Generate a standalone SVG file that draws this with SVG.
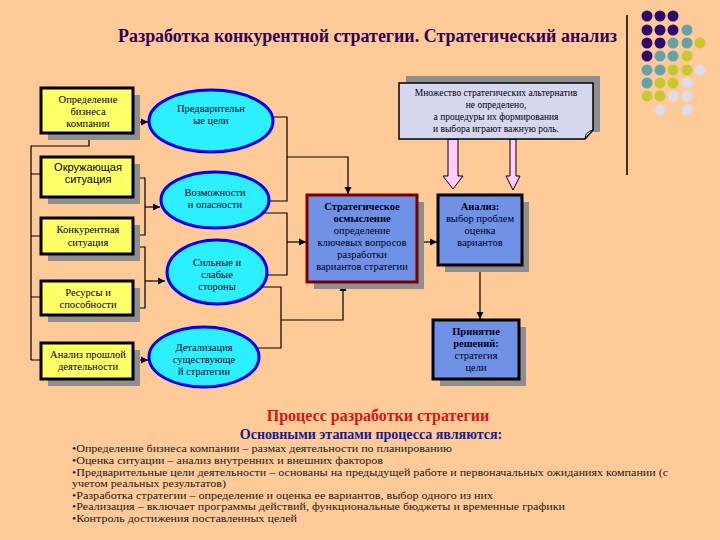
<svg xmlns="http://www.w3.org/2000/svg" width="720" height="540" viewBox="0 0 720 540" font-family="'Liberation Serif','DejaVu Serif',serif">
<defs>
<style>
.bg{fill:#fdca98}
.shadow{fill:#8e8e8e}
.ybox{fill:#ffff66;stroke:#000;stroke-width:3}
.bbox{fill:#6f92e6;stroke:#000;stroke-width:3}
.rbox{fill:#6f92e6;stroke:#7a0000;stroke-width:3}
.ell{fill:#2cf0ff;stroke:#0000ee;stroke-width:3}
.conn{fill:none;stroke:#000;stroke-width:1.2}
.t{font-size:10.5px;fill:#000022;text-anchor:middle}
.ts{font-size:11px;fill:#000022;text-anchor:middle}
.tb{font-weight:bold}
.note{font-size:9.5px;fill:#000;text-anchor:middle}
.list{font-size:11px;fill:#1a1a1a}
.pk{fill:#ffccff;stroke:#000;stroke-width:1}
.dp{fill:#2e0a6a}.dt{fill:#66a3a8}.dy{fill:#c8c830}.dl{fill:#dcdcec}
</style>
<marker id="ah" markerUnits="userSpaceOnUse" markerWidth="8" markerHeight="8" refX="7" refY="4" orient="auto">
<path d="M0,0.5 L7,4 L0,7.5 z" fill="#000"/>
</marker>
</defs>
<rect class="bg" x="0" y="0" width="720" height="540"/>

<!-- title -->
<text x="118" y="42" font-size="18" font-weight="bold" fill="#330055" textLength="499" lengthAdjust="spacingAndGlyphs">Разработка конкурентной стратегии. Стратегический анализ</text>
<line x1="627" y1="15" x2="627" y2="175" stroke="#000" stroke-width="1.5"/>

<!-- decorative dots -->
<g id="dots">
<circle class="dp" cx="647" cy="16" r="5.5"/><circle class="dp" cx="660" cy="16" r="5.5"/><circle class="dp" cx="673" cy="16" r="5.5"/>
<circle class="dp" cx="647" cy="30" r="5.5"/><circle class="dp" cx="660" cy="30" r="5.5"/><circle class="dp" cx="673" cy="30" r="5.5"/><circle class="dt" cx="687" cy="30" r="5.5"/>
<circle class="dp" cx="647" cy="43" r="5.5"/><circle class="dp" cx="660" cy="43" r="5.5"/><circle class="dt" cx="673" cy="43" r="5.5"/><circle class="dt" cx="687" cy="43" r="5.5"/><circle class="dy" cx="700" cy="43" r="5.5"/>
<circle class="dp" cx="647" cy="56" r="5.5"/><circle class="dt" cx="660" cy="56" r="5.5"/><circle class="dt" cx="673" cy="56" r="5.5"/><circle class="dy" cx="687" cy="56" r="5.5"/>
<circle class="dt" cx="647" cy="70" r="5.5"/><circle class="dt" cx="660" cy="70" r="5.5"/><circle class="dy" cx="673" cy="70" r="5.5"/><circle class="dy" cx="687" cy="70" r="5.5"/><circle class="dl" cx="700" cy="70" r="5.5"/>
<circle class="dt" cx="647" cy="83" r="5.5"/><circle class="dy" cx="660" cy="83" r="5.5"/><circle class="dy" cx="673" cy="83" r="5.5"/><circle class="dl" cx="687" cy="83" r="5.5"/>
<circle class="dy" cx="647" cy="96" r="5.5"/><circle class="dy" cx="660" cy="96" r="5.5"/><circle class="dl" cx="673" cy="96" r="5.5"/><circle class="dl" cx="687" cy="96" r="5.5"/>
<circle class="dl" cx="660" cy="110" r="5.5"/><circle class="dl" cx="687" cy="110" r="5.5"/>
</g>

<!-- connectors -->
<g id="connectors">
<path class="conn" d="M89,133 V146 H31 V360 M31,174 H41 M31,236 H41 M31,297 H41 M31,360 H41"/>
<path class="conn" d="M133,122 H148" marker-end="url(#ah)"/>
<path class="conn" d="M133,178 H145 V235 H133"/>
<path class="conn" d="M145,207 H160" marker-end="url(#ah)"/>
<path class="conn" d="M133,247 H145 V308 H133"/>
<path class="conn" d="M145,281 H165" marker-end="url(#ah)"/>
<path class="conn" d="M133,360 H148" marker-end="url(#ah)"/>
<path class="conn" d="M273,117 H287 V201 H269"/>
<path class="conn" d="M287,157 H348 V194" marker-end="url(#ah)"/>
<path class="conn" d="M263,213 H287 V275 H267"/>
<path class="conn" d="M287,242 H306" marker-end="url(#ah)"/>
<path class="conn" d="M261,287 H281 V348 H257"/>
<path class="conn" d="M281,320 H343 V284" marker-end="url(#ah)"/>
<path class="conn" d="M417,242 H437" marker-end="url(#ah)"/>
<path class="conn" d="M480,265 V319" marker-end="url(#ah)"/>
<polygon class="pk" points="448,139 458,139 458,176 463,176 453,189 443,176 448,176"/>
<polygon class="pk" points="510,139 516,139 516,176 520,176 513,190 506,176 510,176"/>
</g>

<!-- left column boxes -->
<g id="box-business">
<rect class="shadow" x="48" y="95" width="92" height="45"/>
<rect class="ybox" x="41" y="88" width="92" height="45"/>
<text class="t" x="88" y="103">Определение</text>
<text class="t" x="88" y="115">бизнеса</text>
<text class="t" x="88" y="127">компании</text>
</g>
<g id="box-environment">
<rect class="shadow" x="48" y="164" width="92" height="40"/>
<rect class="ybox" x="41" y="157" width="92" height="40"/>
<text class="ts" x="88" y="171" font-family="'Liberation Sans',Arial,sans-serif">Окружающая</text>
<text class="ts" x="88" y="183" font-family="'Liberation Sans',Arial,sans-serif">ситуация</text>
</g>
<g id="box-competition">
<rect class="shadow" x="48" y="225" width="92" height="36"/>
<rect class="ybox" x="41" y="218" width="92" height="36"/>
<text class="t" x="88" y="233">Конкурентная</text>
<text class="t" x="88" y="246">ситуация</text>
</g>
<g id="box-resources">
<rect class="shadow" x="48" y="288" width="92" height="34"/>
<rect class="ybox" x="41" y="281" width="92" height="34"/>
<text class="t" x="88" y="296">Ресурсы  и</text>
<text class="t" x="88" y="308">способности</text>
</g>
<g id="box-past">
<rect class="shadow" x="48" y="350" width="92" height="36"/>
<rect class="ybox" x="41" y="343" width="92" height="36"/>
<text class="t" x="88" y="358">Анализ  прошлой</text>
<text class="t" x="88" y="370">деятельности</text>
</g>

<!-- ellipses -->
<g id="ell-goals">
<ellipse class="ell" cx="211" cy="121" rx="62" ry="31"/>
<text class="t" x="211" y="112" font-size="9.5">Предварительн</text>
<text class="t" x="211" y="124" font-size="9.5">ые цели</text>
</g>
<g id="ell-opportunities">
<ellipse class="ell" cx="215" cy="200" rx="54" ry="28"/>
<text class="t" x="215" y="196">Возможности</text>
<text class="t" x="215" y="208">и опасности</text>
</g>
<g id="ell-strengths">
<ellipse class="ell" cx="217" cy="272" rx="50" ry="32"/>
<text class="t" x="217" y="266">Сильные и</text>
<text class="t" x="217" y="278">слабые</text>
<text class="t" x="217" y="290">стороны</text>
</g>
<g id="ell-detail">
<ellipse class="ell" cx="204" cy="357" rx="55" ry="30"/>
<text class="t" x="204" y="351">Детализация</text>
<text class="t" x="204" y="363">существующе</text>
<text class="t" x="204" y="375">й стратегии</text>
</g>

<!-- strategy box -->
<g id="box-strategy">
<rect class="shadow" x="314" y="202" width="110" height="87"/>
<rect class="rbox" x="307" y="195" width="110" height="87"/>
<text class="t tb" x="362" y="210" fill="#000055">Стратегическое</text>
<text class="t tb" x="362" y="222" fill="#000055">осмысление</text>
<text class="t" x="362" y="234" fill="#000055">определение</text>
<text class="t" x="362" y="246" fill="#000055">ключевых вопросов</text>
<text class="t" x="362" y="258" fill="#000055">разработки</text>
<text class="t" x="362" y="270" fill="#000055">вариантов стратегии</text>
</g>
<g id="box-analysis">
<rect class="shadow" x="445" y="202" width="84" height="70"/>
<rect class="bbox" x="438" y="195" width="84" height="70"/>
<text class="t tb" x="480" y="210" fill="#000055">Анализ:</text>
<text class="t" x="480" y="222" fill="#000055">выбор проблем</text>
<text class="t" x="480" y="234" fill="#000055">оценка</text>
<text class="t" x="480" y="246" fill="#000055">вариантов</text>
</g>
<g id="box-decision">
<rect class="shadow" x="440" y="327" width="86" height="59"/>
<rect class="bbox" x="433" y="320" width="86" height="59"/>
<text class="t tb" x="476" y="335" fill="#000055">Принятие</text>
<text class="t tb" x="476" y="347" fill="#000055">решений:</text>
<text class="t" x="476" y="359" fill="#000055">стратегия</text>
<text class="t" x="476" y="371" fill="#000055">цели</text>
</g>

<!-- note -->
<g id="note">
<rect class="shadow" x="406" y="76" width="194" height="56"/>
<path d="M399,83 H593 V130 L585,139 H399 Z" fill="#d4d7ef" stroke="#000" stroke-width="1.5"/>
<path d="M585,139 Q585,132 593,130 Q588,134 585,139 Z" fill="#fff" stroke="#000" stroke-width="1"/>
<text class="note" x="496" y="96">Множество стратегических альтернатив</text>
<text class="note" x="496" y="108">не определено,</text>
<text class="note" x="496" y="120">а процедуры их формирования</text>
<text class="note" x="496" y="132">и выбора играют важную роль.</text>
</g>

<!-- bottom text -->
<text x="378" y="421" text-anchor="middle" font-size="16" font-weight="bold" fill="#d01818">Процесс разработки стратегии</text>
<text x="371" y="439" text-anchor="middle" font-size="14" font-weight="bold" fill="#1a1a90">Основными этапами процесса являются:</text>
<text class="list" x="72" y="452" textLength="380" lengthAdjust="spacingAndGlyphs">•Определение бизнеса компании – размах деятельности по планированию</text>
<text class="list" x="72" y="464" textLength="311" lengthAdjust="spacingAndGlyphs">•Оценка ситуации – анализ внутренних и внешних факторов</text>
<text class="list" x="72" y="475.5" textLength="596" lengthAdjust="spacingAndGlyphs">•Предварительные цели деятельности – основаны на предыдущей работе и первоначальных ожиданиях компании (с</text>
<text class="list" x="72" y="487" textLength="154" lengthAdjust="spacingAndGlyphs">учетом реальных результатов)</text>
<text class="list" x="72" y="498.5" textLength="421" lengthAdjust="spacingAndGlyphs">•Разработка стратегии – определение и оценка ее  вариантов, выбор одного из них</text>
<text class="list" x="72" y="510" textLength="493" lengthAdjust="spacingAndGlyphs">•Реализация – включает  программы действий, функциональные бюджеты и временные графики</text>
<text class="list" x="72" y="521.5" textLength="225" lengthAdjust="spacingAndGlyphs">•Контроль достижения поставленных целей</text>
</svg>
